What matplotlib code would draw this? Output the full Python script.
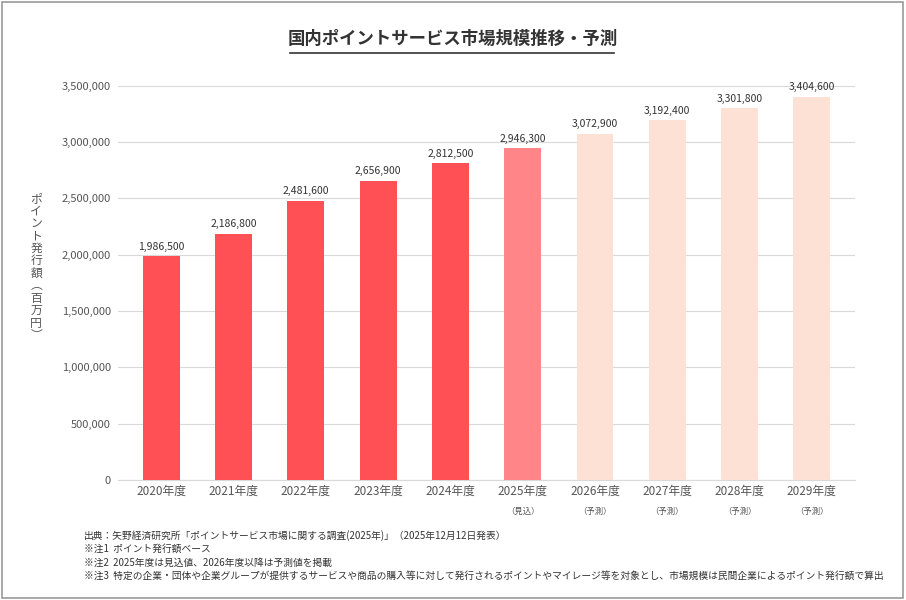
import matplotlib
matplotlib.use("Agg")
import matplotlib.pyplot as plt
from matplotlib.patches import Rectangle

plt.rcParams['font.family'] = ['Noto Sans CJK JP', 'DejaVu Sans']

years = ["2020年度", "2021年度", "2022年度", "2023年度", "2024年度",
         "2025年度", "2026年度", "2027年度", "2028年度", "2029年度"]
subs = ["", "", "", "", "", "（見込）", "（予測）", "（予測）", "（予測）", "（予測）"]
values = [1986500, 2186800, 2481600, 2656900, 2812500,
          2946300, 3072900, 3192400, 3301800, 3404600]
colors = ["#FF5055"] * 5 + ["#FF8588"] + ["#FCE1D4"] * 4

fig = plt.figure(figsize=(9.06, 6.0), dpi=100)
fig.patches.append(Rectangle((0.002, 0.003), 0.995, 0.994, transform=fig.transFigure,
                             fill=False, edgecolor="#9a9a9a", linewidth=1.2))
ax = fig.add_axes([0.1302, 0.2, 0.8137, 0.657])
x = list(range(len(values)))
ax.bar(x, values, width=0.51, color=colors, zorder=3)
for xi, v in zip(x, values):
    ax.text(xi, v + 40000, f"{v:,}", ha="center", va="bottom", fontsize=7.5, color="#333333")
ax.set_xlim(-0.6, 9.6)
ax.set_ylim(0, 3500000)
ax.set_yticks(range(0, 3500001, 500000))
ax.set_yticklabels([f"{t:,}" for t in range(0, 3500001, 500000)], fontsize=8, color="#555555")
ax.grid(axis="y", color="#d9d9d9", linewidth=0.8, zorder=0)
for s in ["top", "right", "left"]:
    ax.spines[s].set_visible(False)
ax.spines["bottom"].set_color("#d9d9d9")
ax.tick_params(axis="both", length=0)
ax.tick_params(axis="y", pad=5)
ax.set_xticks(x)
ax.set_xticklabels(years, fontsize=8.5, color="#555555")
for xi, s in zip(x, subs):
    if s:
        ax.text(xi, -0.068, s, transform=ax.get_xaxis_transform(), ha="center", va="top",
                fontsize=6, color="#555555")

fig.text(0.5, 0.935, "国内ポイントサービス市場規模推移・予測", ha="center", va="center",
         fontsize=12.5, fontweight="bold", color="#333333")
fig.add_artist(plt.Line2D([0.32, 0.678], [0.912, 0.912], color="#333333", linewidth=1.2))

fig.text(0.04, 0.555, "\n".join(list("ポイント発行額")) + "\n︵\n百\n万\n円\n︶", ha="center", va="center",
         fontsize=8.5, color="#555555", linespacing=0.95)

notes = ["出典：矢野経済研究所「ポイントサービス市場に関する調査(2025年)」（2025年12月12日発表）",
         "※注1  ポイント発行額ベース",
         "※注2  2025年度は見込値、2026年度以降は予測値を掲載",
         "※注3  特定の企業・団体や企業グループが提供するサービスや商品の購入等に対して発行されるポイントやマイレージ等を対象とし、市場規模は民間企業によるポイント発行額で算出"]
for i, n in enumerate(notes):
    fig.text(0.093, 0.107 - i * 0.0225, n, ha="left", va="center", fontsize=7, color="#333333")

fig.savefig("out.png", dpi=100)
